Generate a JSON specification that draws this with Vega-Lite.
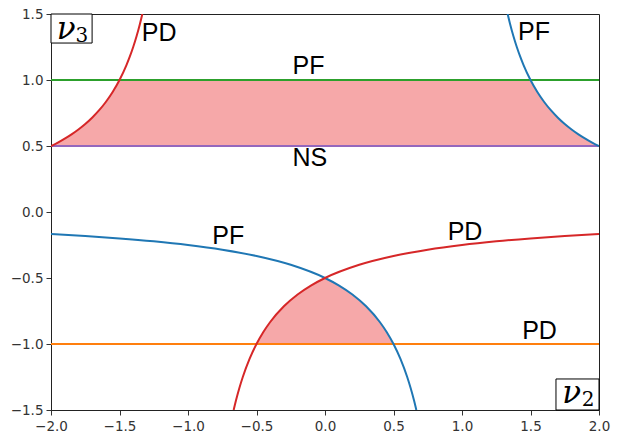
{
  "$schema": "https://vega.github.io/schema/vega-lite/v6.json",
  "width": 548,
  "height": 396,
  "autosize": {"type": "none"},
  "padding": {"left": 51, "top": 14, "right": 22, "bottom": 32},
  "background": "white",
  "config": {
    "view": {"stroke": "#222", "strokeWidth": 1},
    "axis": {"grid": false, "labelFont": "DejaVu Sans", "labelFontSize": 13.5, "labelColor": "#333", "tickColor": "#333", "tickSize": 5, "domainColor": "#222", "labelPadding": 3, "labelFlush": false, "labelOverlap": false, "title": null}
  },
  "datasets": {
    "fills": [
      {"g": "top", "x": -2, "hi": 0.5, "lo": 0.5},
      {"g": "top", "x": -1.95, "hi": 0.5263, "lo": 0.5},
      {"g": "top", "x": -1.9, "hi": 0.5556, "lo": 0.5},
      {"g": "top", "x": -1.85, "hi": 0.5882, "lo": 0.5},
      {"g": "top", "x": -1.8, "hi": 0.625, "lo": 0.5},
      {"g": "top", "x": -1.75, "hi": 0.6667, "lo": 0.5},
      {"g": "top", "x": -1.7, "hi": 0.7143, "lo": 0.5},
      {"g": "top", "x": -1.65, "hi": 0.7692, "lo": 0.5},
      {"g": "top", "x": -1.6, "hi": 0.8333, "lo": 0.5},
      {"g": "top", "x": -1.55, "hi": 0.9091, "lo": 0.5},
      {"g": "top", "x": -1.5, "hi": 1.0, "lo": 0.5},
      {"g": "top", "x": 1.5, "hi": 1.0, "lo": 0.5},
      {"g": "top", "x": 1.55, "hi": 0.9091, "lo": 0.5},
      {"g": "top", "x": 1.6, "hi": 0.8333, "lo": 0.5},
      {"g": "top", "x": 1.65, "hi": 0.7692, "lo": 0.5},
      {"g": "top", "x": 1.7, "hi": 0.7143, "lo": 0.5},
      {"g": "top", "x": 1.75, "hi": 0.6667, "lo": 0.5},
      {"g": "top", "x": 1.8, "hi": 0.625, "lo": 0.5},
      {"g": "top", "x": 1.85, "hi": 0.5882, "lo": 0.5},
      {"g": "top", "x": 1.9, "hi": 0.5556, "lo": 0.5},
      {"g": "top", "x": 1.95, "hi": 0.5263, "lo": 0.5},
      {"g": "top", "x": 2, "hi": 0.5, "lo": 0.5},
      {"g": "bot", "x": -0.5, "hi": -1.0, "lo": -1},
      {"g": "bot", "x": -0.45, "hi": -0.9091, "lo": -1},
      {"g": "bot", "x": -0.4, "hi": -0.8333, "lo": -1},
      {"g": "bot", "x": -0.35, "hi": -0.7692, "lo": -1},
      {"g": "bot", "x": -0.3, "hi": -0.7143, "lo": -1},
      {"g": "bot", "x": -0.25, "hi": -0.6667, "lo": -1},
      {"g": "bot", "x": -0.2, "hi": -0.625, "lo": -1},
      {"g": "bot", "x": -0.15, "hi": -0.5882, "lo": -1},
      {"g": "bot", "x": -0.1, "hi": -0.5556, "lo": -1},
      {"g": "bot", "x": -0.05, "hi": -0.5263, "lo": -1},
      {"g": "bot", "x": 0, "hi": -0.5, "lo": -1},
      {"g": "bot", "x": 0.05, "hi": -0.5263, "lo": -1},
      {"g": "bot", "x": 0.1, "hi": -0.5556, "lo": -1},
      {"g": "bot", "x": 0.15, "hi": -0.5882, "lo": -1},
      {"g": "bot", "x": 0.2, "hi": -0.625, "lo": -1},
      {"g": "bot", "x": 0.25, "hi": -0.6667, "lo": -1},
      {"g": "bot", "x": 0.3, "hi": -0.7143, "lo": -1},
      {"g": "bot", "x": 0.35, "hi": -0.7692, "lo": -1},
      {"g": "bot", "x": 0.4, "hi": -0.8333, "lo": -1},
      {"g": "bot", "x": 0.45, "hi": -0.9091, "lo": -1},
      {"g": "bot", "x": 0.5, "hi": -1.0, "lo": -1}
    ],
    "hlines": [
      {"y": 1.0, "c": "#2ca02c"},
      {"y": 0.5, "c": "#9467bd"},
      {"y": -1.0, "c": "#ff7f0e"}
    ],
    "curves": [
      {"s": "bu", "c": "#1f77b4", "x": 1.3333, "y": 1.5},
      {"s": "bu", "c": "#1f77b4", "x": 1.35, "y": 1.4286},
      {"s": "bu", "c": "#1f77b4", "x": 1.375, "y": 1.3333},
      {"s": "bu", "c": "#1f77b4", "x": 1.4, "y": 1.25},
      {"s": "bu", "c": "#1f77b4", "x": 1.425, "y": 1.1765},
      {"s": "bu", "c": "#1f77b4", "x": 1.45, "y": 1.1111},
      {"s": "bu", "c": "#1f77b4", "x": 1.5, "y": 1.0},
      {"s": "bu", "c": "#1f77b4", "x": 1.55, "y": 0.9091},
      {"s": "bu", "c": "#1f77b4", "x": 1.6, "y": 0.8333},
      {"s": "bu", "c": "#1f77b4", "x": 1.65, "y": 0.7692},
      {"s": "bu", "c": "#1f77b4", "x": 1.7, "y": 0.7143},
      {"s": "bu", "c": "#1f77b4", "x": 1.75, "y": 0.6667},
      {"s": "bu", "c": "#1f77b4", "x": 1.8, "y": 0.625},
      {"s": "bu", "c": "#1f77b4", "x": 1.85, "y": 0.5882},
      {"s": "bu", "c": "#1f77b4", "x": 1.9, "y": 0.5556},
      {"s": "bu", "c": "#1f77b4", "x": 1.95, "y": 0.5263},
      {"s": "bu", "c": "#1f77b4", "x": 2.0, "y": 0.5},
      {"s": "bl", "c": "#1f77b4", "x": -2, "y": -0.1667},
      {"s": "bl", "c": "#1f77b4", "x": -1.75, "y": -0.1818},
      {"s": "bl", "c": "#1f77b4", "x": -1.5, "y": -0.2},
      {"s": "bl", "c": "#1f77b4", "x": -1.25, "y": -0.2222},
      {"s": "bl", "c": "#1f77b4", "x": -1, "y": -0.25},
      {"s": "bl", "c": "#1f77b4", "x": -0.75, "y": -0.2857},
      {"s": "bl", "c": "#1f77b4", "x": -0.5, "y": -0.3333},
      {"s": "bl", "c": "#1f77b4", "x": -0.25, "y": -0.4},
      {"s": "bl", "c": "#1f77b4", "x": 0, "y": -0.5},
      {"s": "bl", "c": "#1f77b4", "x": 0.1, "y": -0.5556},
      {"s": "bl", "c": "#1f77b4", "x": 0.2, "y": -0.625},
      {"s": "bl", "c": "#1f77b4", "x": 0.3, "y": -0.7143},
      {"s": "bl", "c": "#1f77b4", "x": 0.4, "y": -0.8333},
      {"s": "bl", "c": "#1f77b4", "x": 0.45, "y": -0.9091},
      {"s": "bl", "c": "#1f77b4", "x": 0.5, "y": -1.0},
      {"s": "bl", "c": "#1f77b4", "x": 0.55, "y": -1.1111},
      {"s": "bl", "c": "#1f77b4", "x": 0.6, "y": -1.25},
      {"s": "bl", "c": "#1f77b4", "x": 0.625, "y": -1.3333},
      {"s": "bl", "c": "#1f77b4", "x": 0.65, "y": -1.4286},
      {"s": "bl", "c": "#1f77b4", "x": 0.6667, "y": -1.5},
      {"s": "ru", "c": "#d62728", "x": -2, "y": 0.5},
      {"s": "ru", "c": "#d62728", "x": -1.95, "y": 0.5263},
      {"s": "ru", "c": "#d62728", "x": -1.9, "y": 0.5556},
      {"s": "ru", "c": "#d62728", "x": -1.85, "y": 0.5882},
      {"s": "ru", "c": "#d62728", "x": -1.8, "y": 0.625},
      {"s": "ru", "c": "#d62728", "x": -1.75, "y": 0.6667},
      {"s": "ru", "c": "#d62728", "x": -1.7, "y": 0.7143},
      {"s": "ru", "c": "#d62728", "x": -1.65, "y": 0.7692},
      {"s": "ru", "c": "#d62728", "x": -1.6, "y": 0.8333},
      {"s": "ru", "c": "#d62728", "x": -1.55, "y": 0.9091},
      {"s": "ru", "c": "#d62728", "x": -1.5, "y": 1.0},
      {"s": "ru", "c": "#d62728", "x": -1.45, "y": 1.1111},
      {"s": "ru", "c": "#d62728", "x": -1.425, "y": 1.1765},
      {"s": "ru", "c": "#d62728", "x": -1.4, "y": 1.25},
      {"s": "ru", "c": "#d62728", "x": -1.375, "y": 1.3333},
      {"s": "ru", "c": "#d62728", "x": -1.35, "y": 1.4286},
      {"s": "ru", "c": "#d62728", "x": -1.3333, "y": 1.5},
      {"s": "rl", "c": "#d62728", "x": -0.6667, "y": -1.5},
      {"s": "rl", "c": "#d62728", "x": -0.65, "y": -1.4286},
      {"s": "rl", "c": "#d62728", "x": -0.625, "y": -1.3333},
      {"s": "rl", "c": "#d62728", "x": -0.6, "y": -1.25},
      {"s": "rl", "c": "#d62728", "x": -0.55, "y": -1.1111},
      {"s": "rl", "c": "#d62728", "x": -0.5, "y": -1.0},
      {"s": "rl", "c": "#d62728", "x": -0.45, "y": -0.9091},
      {"s": "rl", "c": "#d62728", "x": -0.4, "y": -0.8333},
      {"s": "rl", "c": "#d62728", "x": -0.3, "y": -0.7143},
      {"s": "rl", "c": "#d62728", "x": -0.2, "y": -0.625},
      {"s": "rl", "c": "#d62728", "x": -0.1, "y": -0.5556},
      {"s": "rl", "c": "#d62728", "x": 0, "y": -0.5},
      {"s": "rl", "c": "#d62728", "x": 0.25, "y": -0.4},
      {"s": "rl", "c": "#d62728", "x": 0.5, "y": -0.3333},
      {"s": "rl", "c": "#d62728", "x": 0.75, "y": -0.2857},
      {"s": "rl", "c": "#d62728", "x": 1, "y": -0.25},
      {"s": "rl", "c": "#d62728", "x": 1.25, "y": -0.2222},
      {"s": "rl", "c": "#d62728", "x": 1.5, "y": -0.2},
      {"s": "rl", "c": "#d62728", "x": 1.75, "y": -0.1818},
      {"s": "rl", "c": "#d62728", "x": 2, "y": -0.1667}
    ],
    "labels": [
      {"t": "PD", "x": -1.21, "y": 1.356},
      {"t": "PF", "x": 1.526, "y": 1.36},
      {"t": "PF", "x": -0.12, "y": 1.106},
      {"t": "NS", "x": -0.11, "y": 0.409},
      {"t": "PF", "x": -0.706, "y": -0.184},
      {"t": "PD", "x": 1.022, "y": -0.152},
      {"t": "PD", "x": 1.566, "y": -0.898}
    ],
    "boxes": [
      {"x": -2, "x2": -1.70, "y": 1.28, "y2": 1.5},
      {"x": 1.686, "x2": 2, "y": -1.5, "y2": -1.265}
    ],
    "nus": [
      {"t": "ν", "x": -1.89, "y": 1.379},
      {"t": "ν", "x": 1.80, "y": -1.379}
    ],
    "subs": [
      {"t": "3", "x": -1.774, "y": 1.333},
      {"t": "2", "x": 1.92, "y": -1.424}
    ]
  },
  "encoding": {
    "x": {"type": "quantitative", "scale": {"domain": [-2, 2], "nice": false, "zero": false},
          "axis": {"values": [-2, -1.5, -1, -0.5, 0, 0.5, 1, 1.5, 2], "labelExpr": "replace(format(datum.value, '.1f'), '-', '−')", "labelPadding": 4}},
    "y": {"type": "quantitative", "scale": {"domain": [-1.5, 1.5], "nice": false, "zero": false},
          "axis": {"values": [-1.5, -1, -0.5, 0, 0.5, 1, 1.5], "labelExpr": "replace(format(datum.value, '.1f'), '-', '−')"}}
  },
  "layer": [
    {
      "data": {"name": "fills"},
      "mark": {"type": "area", "color": "#f6a8a9", "opacity": 1},
      "encoding": {
        "x": {"field": "x", "type": "quantitative"},
        "y": {"field": "hi", "type": "quantitative"},
        "y2": {"field": "lo"},
        "detail": {"field": "g"}
      }
    },
    {
      "data": {"name": "hlines"},
      "mark": {"type": "rule", "strokeWidth": 2},
      "encoding": {
        "y": {"field": "y", "type": "quantitative"},
        "color": {"field": "c", "type": "nominal", "scale": null}
      }
    },
    {
      "data": {"name": "curves"},
      "mark": {"type": "line", "strokeWidth": 2, "interpolate": "monotone", "clip": true},
      "encoding": {
        "x": {"field": "x", "type": "quantitative"},
        "y": {"field": "y", "type": "quantitative"},
        "detail": {"field": "s"},
        "color": {"field": "c", "type": "nominal", "scale": null}
      }
    },
    {
      "data": {"name": "labels"},
      "mark": {"type": "text", "font": "Liberation Sans", "fontSize": 25, "color": "black", "align": "center", "baseline": "middle"},
      "encoding": {
        "x": {"field": "x", "type": "quantitative"},
        "y": {"field": "y", "type": "quantitative"},
        "text": {"field": "t"}
      }
    },
    {
      "data": {"name": "boxes"},
      "mark": {"type": "rect", "fill": "white", "stroke": "black", "strokeWidth": 1},
      "encoding": {
        "x": {"field": "x", "type": "quantitative"},
        "x2": {"field": "x2"},
        "y": {"field": "y", "type": "quantitative"},
        "y2": {"field": "y2"}
      }
    },
    {
      "data": {"name": "nus"},
      "mark": {"type": "text", "font": "DejaVu Serif", "fontStyle": "italic", "fontSize": 31, "color": "black", "align": "center", "baseline": "middle"},
      "encoding": {
        "x": {"field": "x", "type": "quantitative"},
        "y": {"field": "y", "type": "quantitative"},
        "text": {"field": "t"}
      }
    },
    {
      "data": {"name": "subs"},
      "mark": {"type": "text", "font": "DejaVu Serif", "fontSize": 20, "color": "black", "align": "center", "baseline": "middle"},
      "encoding": {
        "x": {"field": "x", "type": "quantitative"},
        "y": {"field": "y", "type": "quantitative"},
        "text": {"field": "t"}
      }
    }
  ]
}
